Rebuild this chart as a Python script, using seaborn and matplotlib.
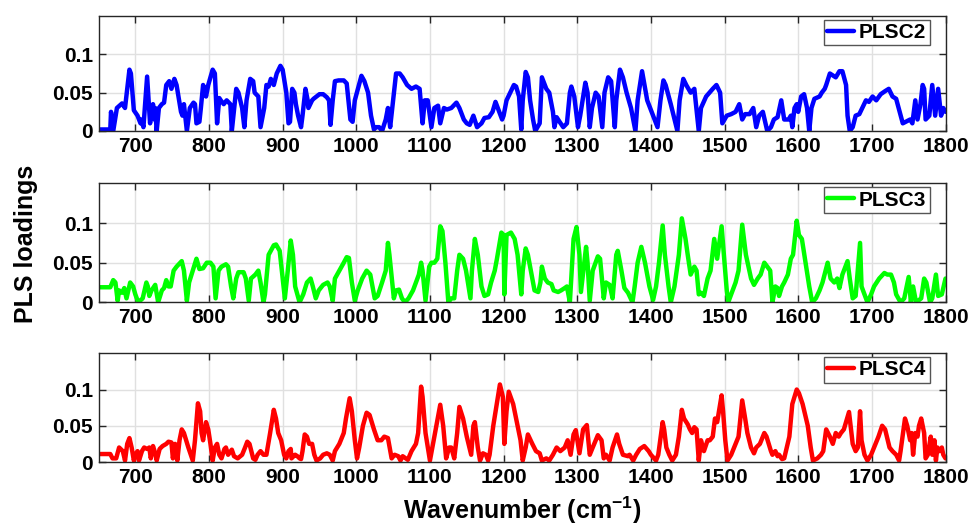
import matplotlib
matplotlib.use("Agg")
import matplotlib.pyplot as plt
import seaborn as sns
import numpy as np
from matplotlib.ticker import FuncFormatter

# ---------------- data (wavenumber, loading) ----------------
wn_plsc2 = [650, 666, 667, 670, 675, 682, 686, 692, 694, 698,
            703, 707, 708, 711, 716, 720, 724, 726, 727, 729,
            732, 736, 739, 742, 746, 749, 753, 756, 762, 764,
            766, 770, 774, 779, 781, 783, 787, 789, 792, 794,
            796, 799, 805, 808, 811, 814, 816, 820, 824, 829,
            831, 837, 840, 845, 848, 851, 856, 860, 862, 867,
            870, 875, 878, 881, 884, 888, 892, 897, 900, 905,
            908, 910, 913, 916, 918, 921, 925, 927, 931, 934,
            935, 940, 942, 946, 950, 955, 960, 963, 965, 968,
            971, 976, 983, 987, 992, 995, 998, 1007, 1011, 1016,
            1020, 1024, 1027, 1031, 1035, 1040, 1043, 1046, 1050, 1054,
            1059, 1063, 1069, 1075, 1081, 1086, 1090, 1093, 1097, 1102,
            1106, 1111, 1114, 1119, 1123, 1129, 1136, 1140, 1146, 1150,
            1154, 1159, 1164, 1170, 1174, 1180, 1185, 1189, 1194, 1198,
            1200, 1204, 1209, 1214, 1217, 1221, 1224, 1226, 1230, 1233,
            1236, 1240, 1243, 1249, 1252, 1258, 1262, 1267, 1269, 1272,
            1276, 1281, 1286, 1290, 1292, 1296, 1301, 1304, 1311, 1314,
            1317, 1320, 1325, 1329, 1334, 1337, 1342, 1346, 1351, 1353,
            1358, 1362, 1367, 1373, 1379, 1382, 1388, 1395, 1409, 1413,
            1417, 1420, 1427, 1436, 1439, 1444, 1448, 1454, 1459, 1465,
            1468, 1475, 1484, 1489, 1494, 1497, 1503, 1509, 1515, 1520,
            1524, 1528, 1534, 1539, 1543, 1547, 1552, 1558, 1563, 1567,
            1572, 1577, 1581, 1587, 1590, 1592, 1595, 1598, 1600, 1604,
            1608, 1612, 1615, 1618, 1622, 1629, 1632, 1636, 1638, 1643,
            1651, 1656, 1660, 1665, 1667, 1670, 1674, 1678, 1683, 1687,
            1692, 1696, 1701, 1706, 1712, 1718, 1723, 1728, 1733, 1735,
            1742, 1746, 1752, 1755, 1759, 1762, 1766, 1769, 1771, 1773,
            1778, 1782, 1786, 1790, 1794, 1797, 1800]
ld_plsc2 = [.002, .002, .025, .0, .03, .036, .03, .08, .075, .027,
            .02, .01, .015, .005, .071, .01, .035, .015, .03, .0,
            .03, .035, .037, .06, .065, .055, .068, .06, .025, .02,
            .035, .0, .03, .037, .035, .01, .012, .03, .06, .055,
            .045, .06, .08, .075, .01, .043, .04, .035, .04, .035,
            .0, .055, .05, .03, .005, .04, .068, .065, .05, .045,
            .005, .03, .06, .058, .068, .06, .075, .085, .08, .05,
            .01, .012, .055, .05, .035, .02, .005, .02, .055, .04,
            .03, .04, .042, .045, .048, .048, .044, .04, .008, .04,
            .065, .066, .066, .062, .015, .012, .04, .072, .065, .05,
            .02, .002, .005, .005, .0, .015, .03, .005, .04, .075,
            .075, .07, .06, .055, .058, .055, .01, .04, .04, .005,
            .03, .033, .01, .03, .028, .03, .037, .03, .015, .01,
            .008, .02, .005, .01, .017, .018, .025, .038, .025, .015,
            .02, .04, .05, .06, .058, .045, .002, .04, .077, .07,
            .04, .015, .0, .01, .07, .055, .05, .025, .005, .018,
            .012, .005, .01, .05, .058, .045, .005, .02, .063, .05,
            .005, .03, .05, .045, .005, .05, .07, .065, .005, .04,
            .08, .07, .05, .03, .0, .04, .078, .04, .005, .04,
            .066, .06, .035, .0, .04, .068, .06, .05, .055, .0,
            .03, .045, .055, .06, .05, .01, .02, .022, .025, .035,
            .015, .022, .022, .03, .005, .02, .025, .0, .005, .015,
            .018, .04, .015, .015, .02, .005, .03, .035, .025, .045,
            .048, .03, .0, .03, .042, .045, .05, .055, .06, .075,
            .07, .078, .078, .06, .02, .0, .005, .02, .022, .03,
            .04, .038, .045, .04, .048, .052, .055, .045, .042, .035,
            .01, .012, .015, .01, .04, .015, .035, .06, .055, .015,
            .02, .06, .02, .055, .02, .03, .025]

wn_plsc3 = [650, 666, 670, 673, 676, 678, 682, 685, 688, 693,
            697, 700, 704, 710, 715, 717, 719, 722, 727, 731,
            736, 739, 742, 745, 748, 752, 756, 763, 766, 770,
            773, 778, 783, 787, 792, 797, 802, 806, 809, 813,
            817, 823, 826, 830, 833, 837, 840, 847, 850, 854,
            857, 863, 867, 870, 874, 876, 881, 888, 891, 896,
            903, 907, 911, 914, 917, 923, 928, 933, 938, 941,
            945, 949, 955, 961, 964, 968, 971, 977, 983, 987,
            990, 994, 998, 1002, 1008, 1014, 1019, 1025, 1029, 1035,
            1040, 1043, 1045, 1051, 1054, 1058, 1062, 1066, 1071, 1077,
            1081, 1085, 1088, 1090, 1094, 1099, 1102, 1106, 1110, 1114,
            1117, 1121, 1125, 1129, 1133, 1137, 1140, 1145, 1149, 1155,
            1157, 1161, 1165, 1170, 1174, 1179, 1183, 1188, 1191, 1197,
            1200, 1201, 1204, 1210, 1215, 1219, 1224, 1226, 1230, 1233,
            1238, 1242, 1247, 1250, 1252, 1256, 1260, 1265, 1268, 1274,
            1278, 1283, 1286, 1290, 1295, 1299, 1303, 1305, 1312, 1314,
            1317, 1321, 1328, 1331, 1336, 1339, 1344, 1348, 1353, 1355,
            1360, 1364, 1369, 1375, 1378, 1382, 1387, 1392, 1398, 1403,
            1407, 1411, 1416, 1419, 1424, 1427, 1432, 1438, 1442, 1447,
            1450, 1454, 1459, 1462, 1465, 1468, 1472, 1477, 1481, 1486,
            1490, 1496, 1500, 1503, 1505, 1511, 1515, 1519, 1524, 1529,
            1536, 1540, 1545, 1549, 1554, 1558, 1562, 1565, 1569, 1572,
            1574, 1578, 1581, 1586, 1590, 1593, 1598, 1601, 1605, 1610,
            1615, 1619, 1624, 1629, 1633, 1640, 1644, 1649, 1653, 1656,
            1660, 1667, 1670, 1674, 1678, 1684, 1686, 1690, 1694, 1699,
            1703, 1710, 1717, 1721, 1726, 1730, 1733, 1739, 1744, 1750,
            1753, 1756, 1760, 1767, 1771, 1774, 1779, 1782, 1787, 1790,
            1795, 1800]
ld_plsc3 = [.019, .019, .028, .025, .002, .015, .012, .018, .005, .025,
            .02, .01, .0, .005, .025, .02, .008, .015, .022, .0,
            .015, .018, .028, .02, .02, .04, .045, .052, .04, .002,
            .025, .04, .055, .042, .043, .05, .05, .045, .005, .04,
            .045, .048, .045, .02, .005, .03, .038, .038, .03, .002,
            .03, .035, .04, .025, .0, .01, .06, .072, .073, .065,
            .005, .04, .078, .06, .02, .0, .01, .025, .03, .02,
            .005, .015, .022, .025, .02, .002, .03, .04, .05, .057,
            .056, .025, .002, .015, .03, .04, .035, .005, .008, .025,
            .04, .075, .06, .005, .015, .016, .005, .0, .005, .015,
            .025, .035, .05, .04, .002, .045, .05, .05, .055, .096,
            .09, .05, .0, .005, .005, .04, .06, .055, .04, .005,
            .04, .08, .06, .02, .008, .01, .025, .04, .055, .088,
            .085, .01, .085, .088, .08, .06, .01, .04, .068, .06,
            .035, .015, .013, .025, .045, .03, .025, .023, .015, .013,
            .015, .018, .02, .0, .08, .095, .06, .013, .07, .05,
            .002, .04, .058, .055, .005, .025, .022, .005, .06, .065,
            .04, .018, .012, .0, .02, .05, .07, .05, .02, .003,
            .02, .05, .097, .06, .02, .0, .02, .06, .106, .08,
            .06, .035, .045, .04, .01, .012, .008, .03, .04, .08,
            .055, .096, .05, .015, .0, .015, .025, .04, .098, .06,
            .03, .022, .03, .035, .05, .045, .04, .0, .02, .018,
            .008, .02, .025, .035, .055, .06, .103, .085, .08, .05,
            .02, .0, .005, .015, .025, .05, .03, .025, .03, .018,
            .035, .052, .03, .005, .008, .075, .02, .01, .0, .01,
            .02, .03, .037, .035, .035, .025, .01, .0, .005, .032,
            .0, .02, .0, .005, .03, .025, .0, .005, .035, .008,
            .01, .03]

wn_plsc4 = [650, 666, 669, 674, 678, 683, 686, 689, 692, 695,
            698, 700, 703, 705, 709, 712, 716, 719, 721, 724,
            727, 729, 733, 737, 742, 745, 749, 751, 754, 757,
            760, 763, 766, 772, 778, 781, 785, 788, 790, 792,
            796, 799, 802, 805, 808, 811, 814, 817, 821, 823,
            826, 831, 834, 839, 845, 849, 852, 855, 860, 863,
            866, 870, 874, 878, 883, 888, 891, 894, 898, 902,
            905, 908, 911, 912, 917, 920, 923, 925, 927, 930,
            933, 936, 940, 943, 946, 951, 955, 960, 964, 968,
            971, 977, 983, 986, 991, 994, 998, 1001, 1004, 1009,
            1014, 1018, 1024, 1029, 1034, 1038, 1043, 1048, 1052, 1057,
            1060, 1063, 1070, 1075, 1081, 1084, 1088, 1090, 1094, 1100,
            1106, 1114, 1118, 1122, 1126, 1129, 1133, 1137, 1140, 1145,
            1150, 1156, 1159, 1161, 1165, 1168, 1172, 1176, 1179, 1181,
            1186, 1195, 1199, 1201, 1204, 1207, 1213, 1219, 1223, 1226,
            1230, 1233, 1239, 1244, 1249, 1252, 1258, 1262, 1267, 1272,
            1277, 1283, 1287, 1291, 1295, 1298, 1303, 1308, 1313, 1317,
            1321, 1328, 1333, 1336, 1339, 1344, 1348, 1354, 1357, 1362,
            1369, 1371, 1376, 1380, 1385, 1391, 1397, 1400, 1407, 1410,
            1416, 1418, 1421, 1425, 1429, 1434, 1438, 1442, 1445, 1450,
            1453, 1456, 1459, 1462, 1465, 1468, 1472, 1477, 1480, 1484,
            1487, 1490, 1496, 1498, 1501, 1504, 1509, 1513, 1519, 1524,
            1528, 1531, 1536, 1540, 1543, 1548, 1554, 1557, 1563, 1565,
            1569, 1572, 1574, 1578, 1581, 1588, 1592, 1598, 1601, 1606,
            1613, 1617, 1620, 1626, 1631, 1634, 1638, 1643, 1647, 1651,
            1655, 1658, 1662, 1669, 1674, 1678, 1681, 1684, 1686, 1690,
            1694, 1699, 1703, 1709, 1714, 1718, 1724, 1728, 1733, 1737,
            1739, 1745, 1748, 1752, 1754, 1756, 1759, 1762, 1764, 1767,
            1771, 1773, 1776, 1780, 1782, 1785, 1787, 1789, 1792, 1795,
            1797, 1800]
ld_plsc4 = [.011, .011, .005, .005, .02, .015, .002, .025, .033, .02,
            .002, .01, .015, .002, .015, .02, .018, .02, .005, .022,
            .012, .002, .018, .022, .025, .028, .027, .005, .025, .002,
            .03, .045, .04, .02, .002, .03, .081, .07, .04, .03,
            .055, .045, .025, .002, .02, .025, .01, .005, .018, .02,
            .01, .017, .008, .005, .01, .02, .028, .025, .005, .003,
            .01, .015, .01, .01, .04, .072, .06, .04, .03, .01,
            .005, .015, .018, .005, .01, .008, .005, .004, .015, .038,
            .035, .025, .025, .01, .002, .005, .01, .012, .01, .002,
            .015, .025, .04, .06, .088, .07, .03, .005, .02, .05,
            .068, .065, .045, .03, .03, .035, .033, .005, .01, .008,
            .002, .008, .003, .015, .025, .04, .104, .09, .04, .002,
            .035, .079, .05, .005, .02, .02, .005, .04, .076, .06,
            .035, .01, .05, .055, .02, .002, .012, .01, .002, .01,
            .05, .107, .09, .025, .07, .097, .08, .05, .03, .002,
            .02, .038, .025, .015, .012, .002, .005, .002, .01, .02,
            .015, .02, .03, .01, .038, .044, .012, .045, .051, .01,
            .02, .037, .03, .005, .01, .002, .02, .038, .025, .01,
            .008, .01, .002, .01, .018, .022, .015, .01, .002, .01,
            .055, .045, .02, .01, .002, .01, .035, .072, .06, .052,
            .045, .04, .048, .045, .002, .03, .015, .03, .03, .035,
            .06, .055, .092, .07, .03, .002, .01, .02, .035, .085,
            .06, .04, .02, .012, .02, .025, .04, .035, .015, .01,
            .015, .008, .01, .004, .005, .035, .08, .1, .095, .08,
            .05, .02, .002, .005, .01, .015, .045, .035, .025, .04,
            .035, .04, .045, .069, .025, .015, .02, .07, .03, .01,
            .002, .01, .02, .035, .05, .045, .02, .015, .01, .002,
            .015, .06, .05, .03, .04, .01, .04, .035, .05, .06,
            .04, .005, .01, .035, .01, .03, .002, .02, .015, .02,
            .01, .005]

series_names = ["PLSC2", "PLSC3", "PLSC4"]
series_colors = ["#0000FF", "#00FF00", "#FF0000"]
x_ticks = [700, 800, 900, 1000, 1100, 1200, 1300, 1400, 1500, 1600, 1700, 1800]
y_ticks = [0, 0.05, 0.1]

series = [(wn_plsc2, ld_plsc2), (wn_plsc3, ld_plsc3), (wn_plsc4, ld_plsc4)]
for xs, ys in series:
    assert len(xs) == len(ys), (len(xs), len(ys))

# ---------------- style ----------------
sns.set_theme(style="white")
plt.rcParams["font.family"] = ["Liberation Sans", "DejaVu Sans"]
plt.rcParams["font.weight"] = "bold"
plt.rcParams["text.color"] = "black"
plt.rcParams["axes.labelcolor"] = "black"
plt.rcParams["mathtext.fontset"] = "custom"
plt.rcParams["mathtext.rm"] = "Liberation Sans:bold"
plt.rcParams["mathtext.it"] = "Liberation Sans:bold"
plt.rcParams["mathtext.bf"] = "Liberation Sans:bold"
plt.rcParams["mathtext.default"] = "rm"

fig = plt.figure(figsize=(9.74, 5.31), dpi=100)
W, H = 974.0, 531.0
left, right = 98.5, 945.5
rects = [(16, 131), (183.5, 302.3), (353.3, 462)]

fmt = FuncFormatter(lambda v, p: "0" if abs(v) < 1e-9 else ("%g" % round(v, 3)))

for i, ((xs, ys), name, col, (top, bot)) in enumerate(zip(series, series_names, series_colors, rects)):
    ax = fig.add_axes([left / W, 1 - bot / H, (right - left) / W, (bot - top) / H])
    sns.lineplot(x=np.array(xs, float), y=np.array(ys, float), ax=ax, color=col,
                 linewidth=3.2, label=name, estimator=None, sort=False)
    ax.set_xlim(650, 1800)
    ax.set_ylim(0, 0.15)
    ax.set_xticks(x_ticks)
    ax.set_yticks(y_ticks)
    ax.yaxis.set_major_formatter(fmt)
    ax.grid(True, color="#e0e0e0", linewidth=1.0)
    ax.set_axisbelow(True)
    for s in ax.spines.values():
        s.set_color("#262626")
        s.set_linewidth(1.0)
        s.set_visible(True)
    ax.tick_params(direction="in", length=5, width=1.0, color="#262626",
                   top=True, right=True, bottom=True, left=True,
                   labelsize=15, pad=4, labelcolor="black")
    for lab in ax.get_xticklabels() + ax.get_yticklabels():
        lab.set_fontweight("bold")
    ax.set_xlabel("")
    ax.set_ylabel("")
    # legend: 16 px from right spine, 4 px below top spine
    ax_w = right - left
    ax_h = bot - top
    anchor = (1 - 16.0 / ax_w, 1 - 4.0 / ax_h)
    leg = ax.legend(loc="upper right", bbox_to_anchor=anchor, borderaxespad=0.0,
                    frameon=True, fancybox=False, framealpha=1.0,
                    edgecolor="#555555", handlelength=1.3, handletextpad=0.25,
                    borderpad=0.15, prop={"weight": "bold", "size": 15})
    leg.get_frame().set_linewidth(1.0)
    for t in leg.get_texts():
        t.set_color("black")
    if i == 2:
        ax.set_xlabel("Wavenumber (cm$^{-1}$)", fontsize=18, fontweight="bold",
                      labelpad=6, color="black")

fig.text(26 / W, 1 - 244 / H, "PLS loadings", rotation=90, ha="center", va="center",
         fontsize=18, fontweight="bold", color="black")

fig.savefig("out.png", dpi=100)
